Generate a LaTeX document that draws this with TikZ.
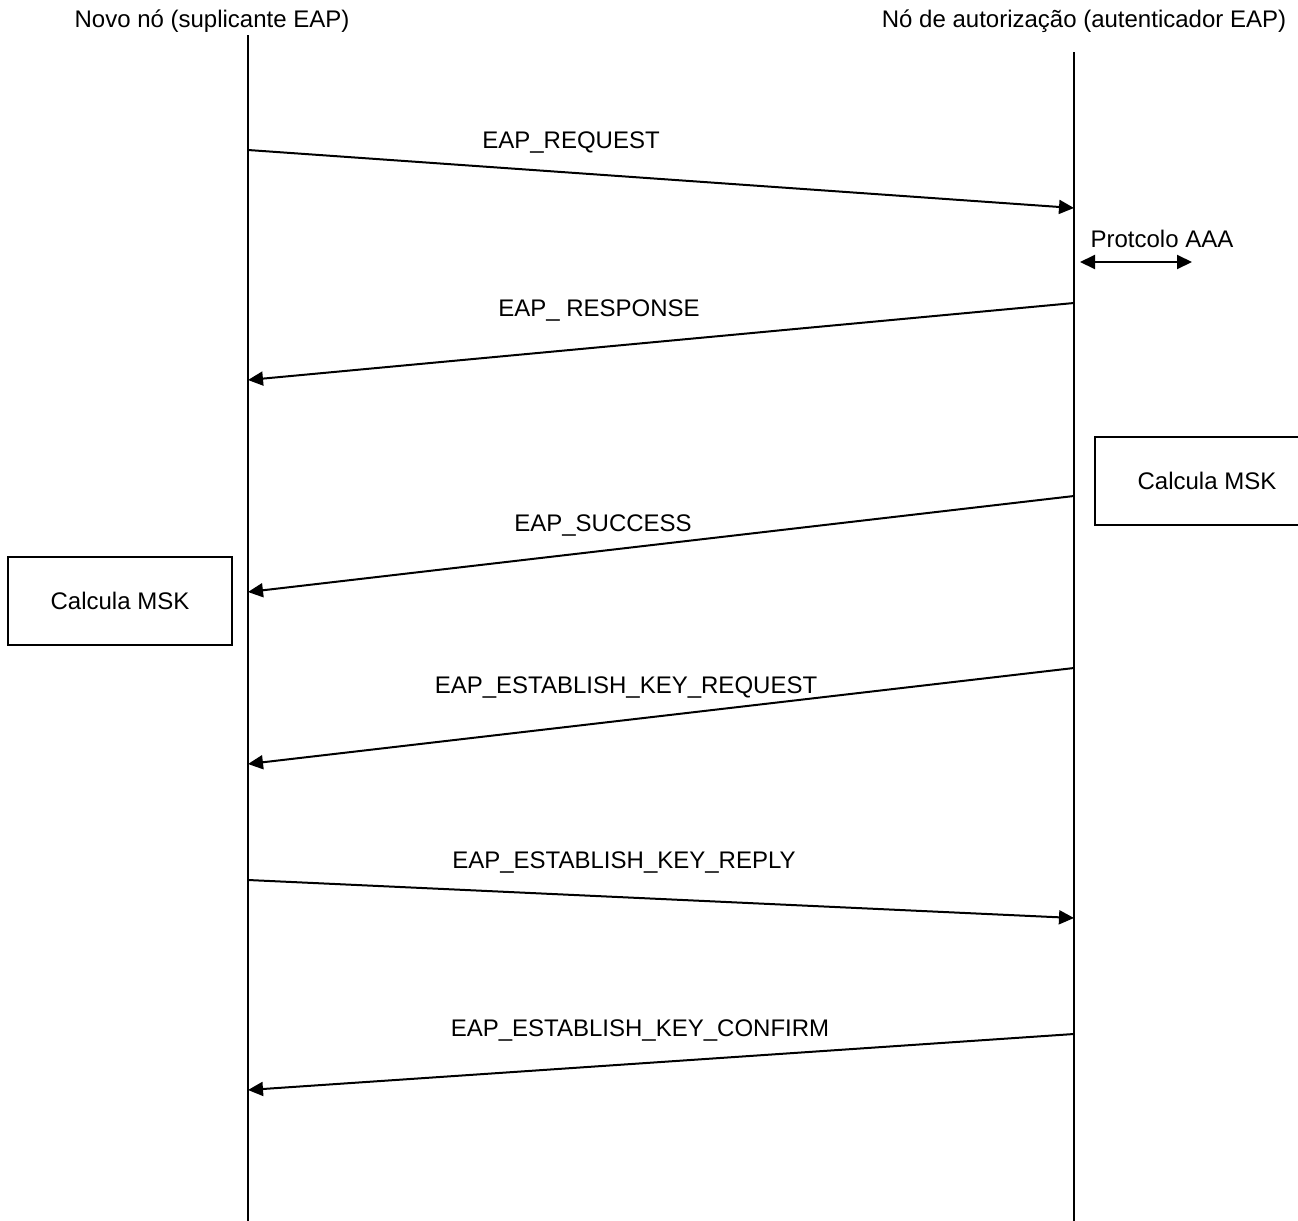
\documentclass[tikz,border=0pt]{standalone}
\usepackage{fontspec}
\setmainfont{Liberation Sans}
\usetikzlibrary{arrows.meta}
\tikzset{
  msg/.style={line width=1pt,-{Triangle[length=7.5pt,width=7pt]}},
  lbl/.style={font=\fontsize{12}{14}\selectfont,inner sep=0pt},
  calcbox/.style={draw,line width=0.7pt,minimum width=112pt,minimum height=44pt,font=\fontsize{12}{14}\selectfont}
}
\begin{document}
\begin{tikzpicture}[x=0.5pt,y=-0.5pt]
\useasboundingbox (0,0) rectangle (1298,1221);
% lifelines
\node[lbl] (hA) at (212,21) {Novo nó (suplicante EAP)};
\node[lbl] (hB) at (1084,21) {Nó de autorização (autenticador EAP)};
\coordinate (a0) at (248,35);
\coordinate (a1) at (248,1221);
\coordinate (b0) at (1074,52);
\coordinate (b1) at (1074,1221);
\draw[line width=1pt] (a0) -- (a1);
\draw[line width=1pt] (b0) -- (b1);
% messages
\coordinate (m1a) at (248,150);  \coordinate (m1b) at (1074,208);
\coordinate (m2a) at (1074,303); \coordinate (m2b) at (248,380);
\coordinate (m3a) at (1074,496); \coordinate (m3b) at (248,592);
\coordinate (m4a) at (1074,668); \coordinate (m4b) at (248,764);
\coordinate (m5a) at (248,880);  \coordinate (m5b) at (1074,918);
\coordinate (m6a) at (1074,1034); \coordinate (m6b) at (248,1090);
\draw[msg] (m1a) -- (m1b);
\draw[msg] (m2a) -- (m2b);
\draw[msg] (m3a) -- (m3b);
\draw[msg] (m4a) -- (m4b);
\draw[msg] (m5a) -- (m5b);
\draw[msg] (m6a) -- (m6b);
\node[lbl] (l1) at (571,143) {EAP\_REQUEST};
\node[lbl] (l2) at (599,311) {EAP\_ RESPONSE};
\node[lbl] (l3) at (603,526) {EAP\_SUCCESS};
\node[lbl] (l4) at (626,687) {EAP\_ESTABLISH\_KEY\_REQUEST};
\node[lbl] (l5) at (624,862) {EAP\_ESTABLISH\_KEY\_REPLY};
\node[lbl] (l6) at (640,1030) {EAP\_ESTABLISH\_KEY\_CONFIRM};
% AAA
\coordinate (p0) at (1080,262);
\coordinate (p1) at (1192,262);
\draw[line width=1pt,{Triangle[length=7.5pt,width=7pt]}-{Triangle[length=7.5pt,width=7pt]}] (p0) -- (p1);
\node[lbl] (aaa) at (1162,239) {Protcolo AAA};
% boxes
\node[calcbox] (kA) at (120,601) {Calcula MSK};
\node[calcbox] (kB) at (1207,481) {Calcula MSK};
\end{tikzpicture}
\end{document}
